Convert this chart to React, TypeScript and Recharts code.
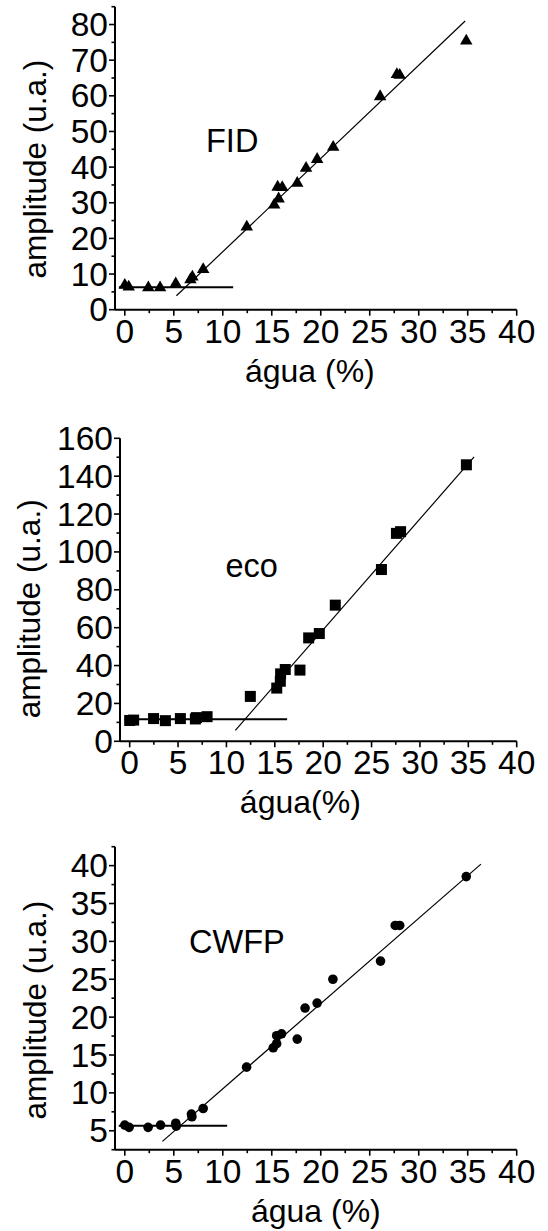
import React from 'react'
import {
  ScatterChart,
  Scatter,
  XAxis,
  YAxis,
  ReferenceLine,
} from 'recharts'

const FONT = '"Liberation Sans", Arial, sans-serif'

// water content (%) shared scale
const X_TICKS = [0, 2.5, 5, 7.5, 10, 12.5, 15, 17.5, 20, 22.5, 25, 27.5, 30, 32.5, 35, 37.5, 40]

// FID
const fidWater = [0, 0.4, 2.4, 3.6, 5.2, 6.7, 6.9, 8.0, 12.45, 15.25, 15.7, 15.6, 16.07, 17.6, 18.5, 19.63, 21.27, 26.06, 27.77, 28.06, 34.85]
const fidAmp = [6.9, 6.4, 6.2, 6.2, 7.3, 8.4, 9.2, 11.3, 23.2, 29.4, 31.1, 34.4, 34.3, 35.5, 39.7, 42.2, 45.6, 59.8, 66.0, 65.8, 75.4]
const fidTicks = [0, 5, 10, 15, 20, 25, 30, 35, 40, 45, 50, 55, 60, 65, 70, 75, 80, 85]
const fidFit = [{ x: 5.27, y: 3.9 }, { x: 34.74, y: 81.0 }]
const fidBase = [{ x: -0.6, y: 6.3 }, { x: 11.06, y: 6.3 }]

// eco
const ecoWater = [0, 0.41, 2.47, 3.69, 5.24, 6.79, 6.9, 8.0, 12.47, 15.2, 15.57, 15.6, 16.08, 17.6, 18.5, 19.6, 21.25, 26.02, 27.57, 28.0, 34.8]
const ecoAmp = [11.0, 11.2, 12.0, 10.9, 12.0, 11.8, 12.5, 13.0, 23.7, 28.1, 31.7, 35.6, 37.9, 37.6, 54.6, 56.9, 71.9, 90.7, 109.8, 110.7, 146.0]
const ecoTicks = [0, 10, 20, 30, 40, 50, 60, 70, 80, 90, 100, 110, 120, 130, 140, 150, 160]
const ecoFit = [{ x: 10.92, y: 5.8 }, { x: 35.6, y: 150.2 }]
const ecoBase = [{ x: -0.53, y: 11.7 }, { x: 16.27, y: 11.7 }]

// CWFP
const cwfpWater = [0, 0.44, 2.38, 3.65, 5.2, 5.25, 6.8, 6.85, 8.0, 12.43, 15.15, 15.5, 15.5, 16.0, 17.6, 18.4, 19.63, 21.24, 26.1, 27.6, 28.06, 34.85]
const cwfpAmp = [5.75, 5.45, 5.45, 5.75, 6.0, 5.6, 7.2, 6.85, 7.94, 13.4, 15.95, 16.5, 17.55, 17.8, 17.1, 21.2, 21.85, 25.0, 27.4, 32.1, 32.1, 38.55]
const cwfpTicks = [2.5, 5, 7.5, 10, 12.5, 15, 17.5, 20, 22.5, 25, 27.5, 30, 32.5, 35, 37.5, 40, 42.5]
const cwfpFit = [{ x: 3.84, y: 3.6 }, { x: 36.35, y: 40.2 }]
const cwfpBase = [{ x: -0.62, y: 5.66 }, { x: 10.45, y: 5.66 }]

const zip = (xs: number[], ys: number[]) => xs.map((x, i) => ({ x, y: ys[i] }))

type Marker = 'triangle' | 'square' | 'circle'

const drawMarker = (kind: Marker) => (props: any) => {
  const { cx, cy } = props
  if (kind === 'triangle') {
    const s = 12.5
    const h = s * 0.866
    return (
      <polygon
        points={`${cx},${cy - (2 * h) / 3} ${cx - s / 2},${cy + h / 3} ${cx + s / 2},${cy + h / 3}`}
        fill="#000"
      />
    )
  }
  if (kind === 'square') {
    const s = 11
    return <rect x={cx - s / 2} y={cy - s / 2} width={s} height={s} fill="#000" />
  }
  return <circle cx={cx} cy={cy} r={4.8} fill="#000" />
}

interface PanelProps {
  water: number[]
  amp: number[]
  marker: Marker
  yDomain: [number, number]
  yTicks: number[]
  yMajor: number
  fit: { x: number; y: number }[]
  base: { x: number; y: number }[]
  top: number
  height: number
  marginTop: number
  plotLeft: number
  title: string
  titlePos: [number, number]
  xTitle: string
  xTitleDx: number
  yTitleX: number
  yTitleDy: number
}

function Panel(p: PanelProps) {
  const data = zip(p.water, p.amp)

  const XTick = (props: any) => {
    const { x, y, payload } = props
    const v = payload.value as number
    const major = v % 5 === 0
    return (
      <g>
        <line x1={x} x2={x} y1={y} y2={y + (major ? 6 : 3.5)} stroke="#000" strokeWidth={1.6} />
        {major && (
          <text x={x} y={y + 33} textAnchor="middle" fontSize={33.5} fontFamily={FONT} fill="#000">
            {v}
          </text>
        )}
      </g>
    )
  }

  const YTick = (props: any) => {
    const { x, y, payload } = props
    const v = payload.value as number
    const major = Math.abs(v / p.yMajor - Math.round(v / p.yMajor)) < 1e-6
    return (
      <g>
        <line x1={x} x2={x - (major ? 6 : 3.5)} y1={y} y2={y} stroke="#000" strokeWidth={1.6} />
        {major && (
          <text x={x - 7} y={y + 11.5} textAnchor="end" fontSize={33.5} fontFamily={FONT} fill="#000">
            {v}
          </text>
        )}
      </g>
    )
  }

  const xLabel = (props: any) => {
    const vb = props.viewBox
    return (
      <text
        x={vb.x + vb.width / 2 + p.xTitleDx}
        y={vb.y + 72}
        textAnchor="middle"
        fontSize={32}
        fontFamily={FONT}
        fill="#000"
      >
        {p.xTitle}
      </text>
    )
  }

  const yLabel = (props: any) => {
    const vb = props.viewBox
    const cy = vb.y + vb.height / 2 + p.yTitleDy
    return (
      <g>
        <text
          x={p.yTitleX}
          y={cy}
          transform={`rotate(-90, ${p.yTitleX}, ${cy})`}
          textAnchor="middle"
          fontSize={31.5}
          fontFamily={FONT}
          fill="#000"
        >
          amplitude (u.a.)
        </text>
        <text x={p.titlePos[0]} y={p.titlePos[1]} fontSize={32.5} fontFamily={FONT} fill="#000">
          {p.title}
        </text>
      </g>
    )
  }

  return (
    <div style={{ position: 'absolute', left: 0, top: p.top, width: 548, height: p.height }}>
      <ScatterChart
        width={548}
        height={p.height}
        margin={{ top: p.marginTop, right: 31.3, bottom: 0, left: 0 }}
      >
        <XAxis
          type="number"
          dataKey="x"
          domain={[-1, 40]}
          ticks={X_TICKS}
          interval={0}
          allowDataOverflow
          height={p.height - p.marginTop - 303}
          tickSize={0}
          tickMargin={0}
          tickLine={false}
          axisLine={{ stroke: '#000', strokeWidth: 2 }}
          tick={<XTick />}
          label={xLabel}
        />
        <YAxis
          type="number"
          dataKey="y"
          domain={p.yDomain}
          ticks={p.yTicks}
          interval={0}
          allowDataOverflow
          width={p.plotLeft}
          tickSize={0}
          tickMargin={0}
          tickLine={false}
          axisLine={{ stroke: '#000', strokeWidth: 2 }}
          tick={<YTick />}
          label={yLabel}
        />
        <ReferenceLine segment={p.base} stroke="#000" strokeWidth={2} ifOverflow="visible" />
        <ReferenceLine segment={p.fit} stroke="#000" strokeWidth={1.2} ifOverflow="visible" />
        <Scatter data={data} shape={drawMarker(p.marker)} fill="#000" isAnimationActive={false} />
      </ScatterChart>
    </div>
  )
}

export default function App() {
  return (
    <div style={{ position: 'absolute', left: 0, top: 0, width: 548, height: 1231, background: '#fff' }}>
      <Panel
        water={fidWater}
        amp={fidAmp}
        marker="triangle"
        yDomain={[0, 85]}
        yTicks={fidTicks}
        yMajor={10}
        fit={fidFit}
        base={fidBase}
        top={0}
        height={400}
        marginTop={6.7}
        plotLeft={115}
        title="FID"
        titlePos={[206, 152]}
        xTitle="água (%)"
        xTitleDx={-6}
        yTitleX={46}
        yTitleDy={11}
      />
      <Panel
        water={ecoWater}
        amp={ecoAmp}
        marker="square"
        yDomain={[0, 160]}
        yTicks={ecoTicks}
        yMajor={20}
        fit={ecoFit}
        base={ecoBase}
        top={420}
        height={410}
        marginTop={18.3}
        plotLeft={120}
        title="eco"
        titlePos={[225.5, 157]}
        xTitle="água(%)"
        xTitleDx={-18}
        yTitleX={40.5}
        yTitleDy={19}
      />
      <Panel
        water={cwfpWater}
        amp={cwfpAmp}
        marker="circle"
        yDomain={[2.5, 42.5]}
        yTicks={cwfpTicks}
        yMajor={5}
        fit={cwfpFit}
        base={cwfpBase}
        top={830}
        height={401}
        marginTop={16.7}
        plotLeft={115}
        title="CWFP"
        titlePos={[189, 123]}
        xTitle="água (%)"
        xTitleDx={0}
        yTitleX={46}
        yTitleDy={12}
      />
    </div>
  )
}
